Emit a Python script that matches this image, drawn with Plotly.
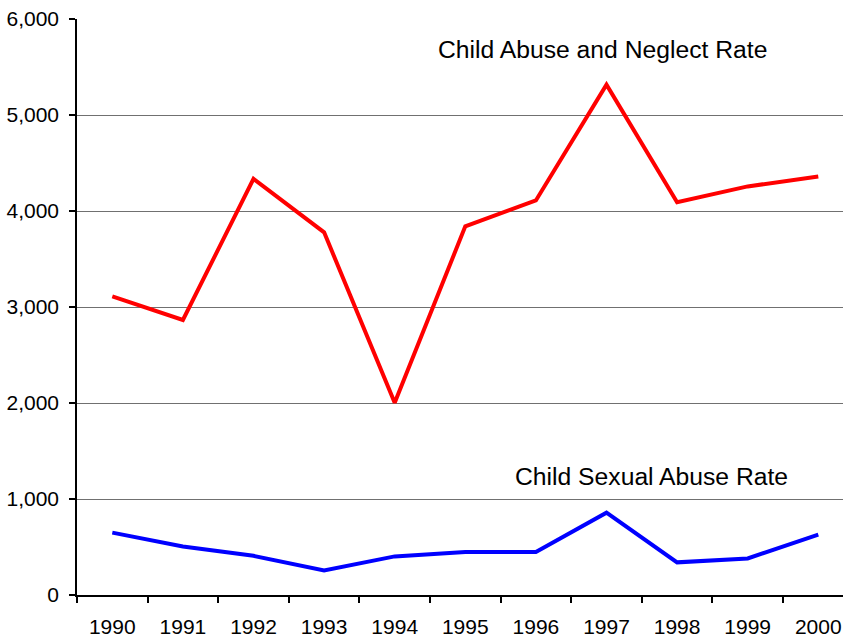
import plotly.graph_objects as go

years = ["1990", "1991", "1992", "1993", "1994", "1995", "1996", "1997", "1998", "1999", "2000"]
abuse_neglect = [3110, 2865, 4335, 3778, 2003, 3840, 4110, 5316, 4092, 4256, 4360]
sexual_abuse = [650, 505, 408, 256, 402, 448, 448, 858, 340, 381, 628]
y_ticks = [0, 1000, 2000, 3000, 4000, 5000, 6000]

FONT = "Liberation Sans, Arial, sans-serif"

fig = go.Figure()
fig.add_trace(go.Scatter(x=years, y=abuse_neglect, mode="lines",
                         line=dict(color="#FF0000", width=4), showlegend=False))
fig.add_trace(go.Scatter(x=years, y=sexual_abuse, mode="lines",
                         line=dict(color="#0000FF", width=4), showlegend=False))

fig.add_annotation(x=6.94, y=5680, xref="x", yref="y", text="Child Abuse and Neglect Rate",
                   showarrow=False, font=dict(family=FONT, size=24.7, color="#000000"),
                   xanchor="center", yanchor="middle")
fig.add_annotation(x=7.64, y=1232, xref="x", yref="y", text="Child Sexual Abuse Rate",
                   showarrow=False, font=dict(family=FONT, size=24.7, color="#000000"),
                   xanchor="center", yanchor="middle")

fig.update_layout(
    width=843, height=637,
    margin=dict(l=77, r=0, t=19, b=42, pad=0),
    paper_bgcolor="white", plot_bgcolor="white",
    font=dict(family=FONT, size=21, color="#000000"),
    xaxis=dict(type="category", range=[-0.5, 10.35], tickson="boundaries",
               ticks="outside", ticklen=6, tickcolor="#000000", tickwidth=1.5,
               showline=True, linecolor="#000000", linewidth=1.5,
               showgrid=False, zeroline=False, ticklabelstandoff=12,
               tickfont=dict(family=FONT, size=21, color="#000000")),
    yaxis=dict(range=[0, 6000], tickvals=y_ticks, tickformat=",d",
               ticks="outside", ticklen=6, tickcolor="#000000", tickwidth=1.5,
               showline=True, linecolor="#000000", linewidth=1.5,
               showgrid=True, gridcolor="#707070", gridwidth=1, zeroline=False,
               ticklabelstandoff=6,
               tickfont=dict(family=FONT, size=21, color="#000000")),
)

fig.write_html("out.html", config={"displayModeBar": False},
               post_script="document.body.style.margin='0';document.body.style.overflow='hidden';")
